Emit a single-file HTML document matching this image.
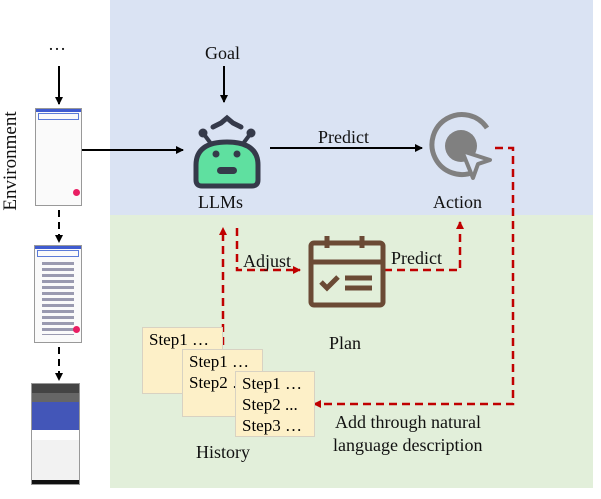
<!DOCTYPE html>
<html><head><meta charset="utf-8"><style>
body{margin:0;width:601px;height:499px;background:#fff;position:relative;overflow:hidden;font-family:"Liberation Serif",serif;}
.a{position:absolute}
.t{position:absolute;font-size:18px;color:#111;white-space:nowrap}
.box{position:absolute;background:#fdf0c8;border:1.5px solid #d8d2c2;box-sizing:border-box;font-size:17px;line-height:21px;padding:1px 6px}
.ph{position:absolute;background:#f4f4f4;border:1px solid #999;box-sizing:border-box}
</style></head><body>
<div class="a" style="left:110px;top:0;width:483px;height:215px;background:#dae3f3"></div>
<div class="a" style="left:110px;top:215px;width:483px;height:273px;background:#e2efda"></div>

<div class="ph" style="left:35px;top:108px;width:47px;height:98px;background:#fafafa">
 <div style="height:3px;background:#3f5bd0"></div><div style="margin:1px 2px;height:5px;border:1px solid #5b7bd8"></div>
 <div style="position:absolute;left:37px;top:80px;width:7px;height:7px;border-radius:50%;background:#e91e63"></div>
</div>
<div class="ph" style="left:34px;top:245px;width:48px;height:98px;background:#fafafa">
 <div style="height:3px;background:#3f5bd0"></div><div style="margin:1px 2px;height:5px;border:1px solid #5b7bd8"></div>
 <div style="margin:3px 7px;height:75px;background:repeating-linear-gradient(#fafafa 0 2px,#9a9ab0 2px 5px,#fafafa 5px 6px)"></div>
 <div style="position:absolute;left:38px;top:80px;width:7px;height:7px;border-radius:50%;background:#e91e63"></div>
</div>
<div class="ph" style="left:31px;top:383px;width:49px;height:102px;background:#f2f2f2">
 <div style="height:9px;background:#444"></div>
 <div style="height:9px;background:#666"></div>
 <div style="height:28px;background:#4356b8"></div>
 <div style="height:10px;background:#fff"></div>
 <div style="position:absolute;bottom:0;left:0;right:0;height:4px;background:#111"></div>
</div>

<svg class="a" style="left:0;top:0" width="601" height="499">
<defs>
<marker id="k" markerWidth="8" markerHeight="8" refX="7" refY="4" orient="auto" markerUnits="userSpaceOnUse"><path d="M0,0L8,4L0,8z" fill="#000"/></marker>
<marker id="r" markerWidth="8" markerHeight="8" refX="7" refY="4" orient="auto" markerUnits="userSpaceOnUse"><path d="M0,0L8,4L0,8z" fill="#c00000"/></marker>
</defs>
<g stroke="#000" stroke-width="2" fill="none">
<line x1="59" y1="66" x2="59" y2="104" marker-end="url(#k)"/>
<line x1="59" y1="210" x2="59" y2="242" stroke-dasharray="7,5" marker-end="url(#k)"/>
<line x1="59" y1="347" x2="59" y2="380" stroke-dasharray="7,5" marker-end="url(#k)"/>
<line x1="82" y1="150" x2="183" y2="150" marker-end="url(#k)"/>
<line x1="224" y1="66" x2="224" y2="102" marker-end="url(#k)"/>
<line x1="270" y1="148" x2="422" y2="148" marker-end="url(#k)"/>
</g>
<g stroke="#c00000" stroke-width="2.5" fill="none" stroke-dasharray="8,5">
<polyline points="237,228 237,270 300,270" marker-end="url(#r)"/>
<line x1="223" y1="345" x2="223" y2="228" marker-end="url(#r)"/>
<polyline points="384,270 460,270 460,222" marker-end="url(#r)"/>
<polyline points="495,148 513,148 513,404 314,404" marker-end="url(#r)"/>
</g>
<g>
<circle cx="203" cy="133" r="4.5" fill="#353a4a"/><circle cx="251" cy="133" r="4.5" fill="#353a4a"/>
<line x1="203" y1="133" x2="212" y2="145" stroke="#353a4a" stroke-width="4"/>
<line x1="251" y1="133" x2="242" y2="145" stroke="#353a4a" stroke-width="4"/>
<path d="M213,127 L221,123 L227,118 L233,123 L241,127" stroke="#353a4a" stroke-width="5" fill="none" stroke-linecap="round"/>
<path d="M196,180 L196,165 Q196,142 227,142 Q258,142 258,165 L258,180 Q258,186 252,186 L202,186 Q196,186 196,180 Z" fill="#5fe0a0" stroke="#353a4a" stroke-width="5"/>
<circle cx="216" cy="154" r="3.5" fill="#353a4a"/><circle cx="237" cy="154" r="3.5" fill="#353a4a"/>
<rect x="217" y="167" width="20" height="7" rx="3.5" fill="#353a4a"/>
</g>
<g>
<path d="M487,128 A30,30 0 1 0 474,172" stroke="#808080" stroke-width="5" fill="none"/>
<circle cx="461" cy="146" r="16" fill="#808080"/>
<path d="M462,151 L490,160 L478,164 L473,178 Z" fill="#dae3f3" stroke="#808080" stroke-width="4" stroke-linejoin="round"/>
</g>
<g stroke="#6b4a35" stroke-width="5" fill="none">
<rect x="311" y="243" width="72" height="62" rx="3"/>
<line x1="311" y1="262" x2="383" y2="262"/>
<line x1="327" y1="236" x2="327" y2="248"/><line x1="362" y1="236" x2="362" y2="248"/>
<path d="M321,282 L327,288 L338,277"/>
<line x1="345" y1="278" x2="372" y2="278"/><line x1="345" y1="288" x2="372" y2="288"/>
</g>
</svg>

<div class="t" style="left:48px;top:34px;font-size:18px">…</div>
<div class="t" style="left:-44px;top:150px;font-size:19px;transform:rotate(-90deg);transform-origin:center;width:110px;text-align:center">Environment</div>
<div class="t" style="left:205px;top:43px">Goal</div>
<div class="t" style="left:198px;top:192px">LLMs</div>
<div class="t" style="left:318px;top:127px">Predict</div>
<div class="t" style="left:433px;top:192px">Action</div>
<div class="t" style="left:243px;top:251px">Adjust</div>
<div class="t" style="left:391px;top:248px">Predict</div>
<div class="t" style="left:329px;top:333px">Plan</div>
<div class="t" style="left:196px;top:442px">History</div>
<div class="t" style="left:335px;top:412px">Add through natural</div>
<div class="t" style="left:333px;top:435px">language description</div>

<div class="box" style="left:142px;top:327px;width:81px;height:67px">Step1 …</div>
<div class="box" style="left:182px;top:349px;width:81px;height:68px">Step1 …<br>Step2 …</div>
<div class="box" style="left:235px;top:371px;width:80px;height:66px">Step1 …<br>Step2 ...<br>Step3 …</div>
</body></html>
